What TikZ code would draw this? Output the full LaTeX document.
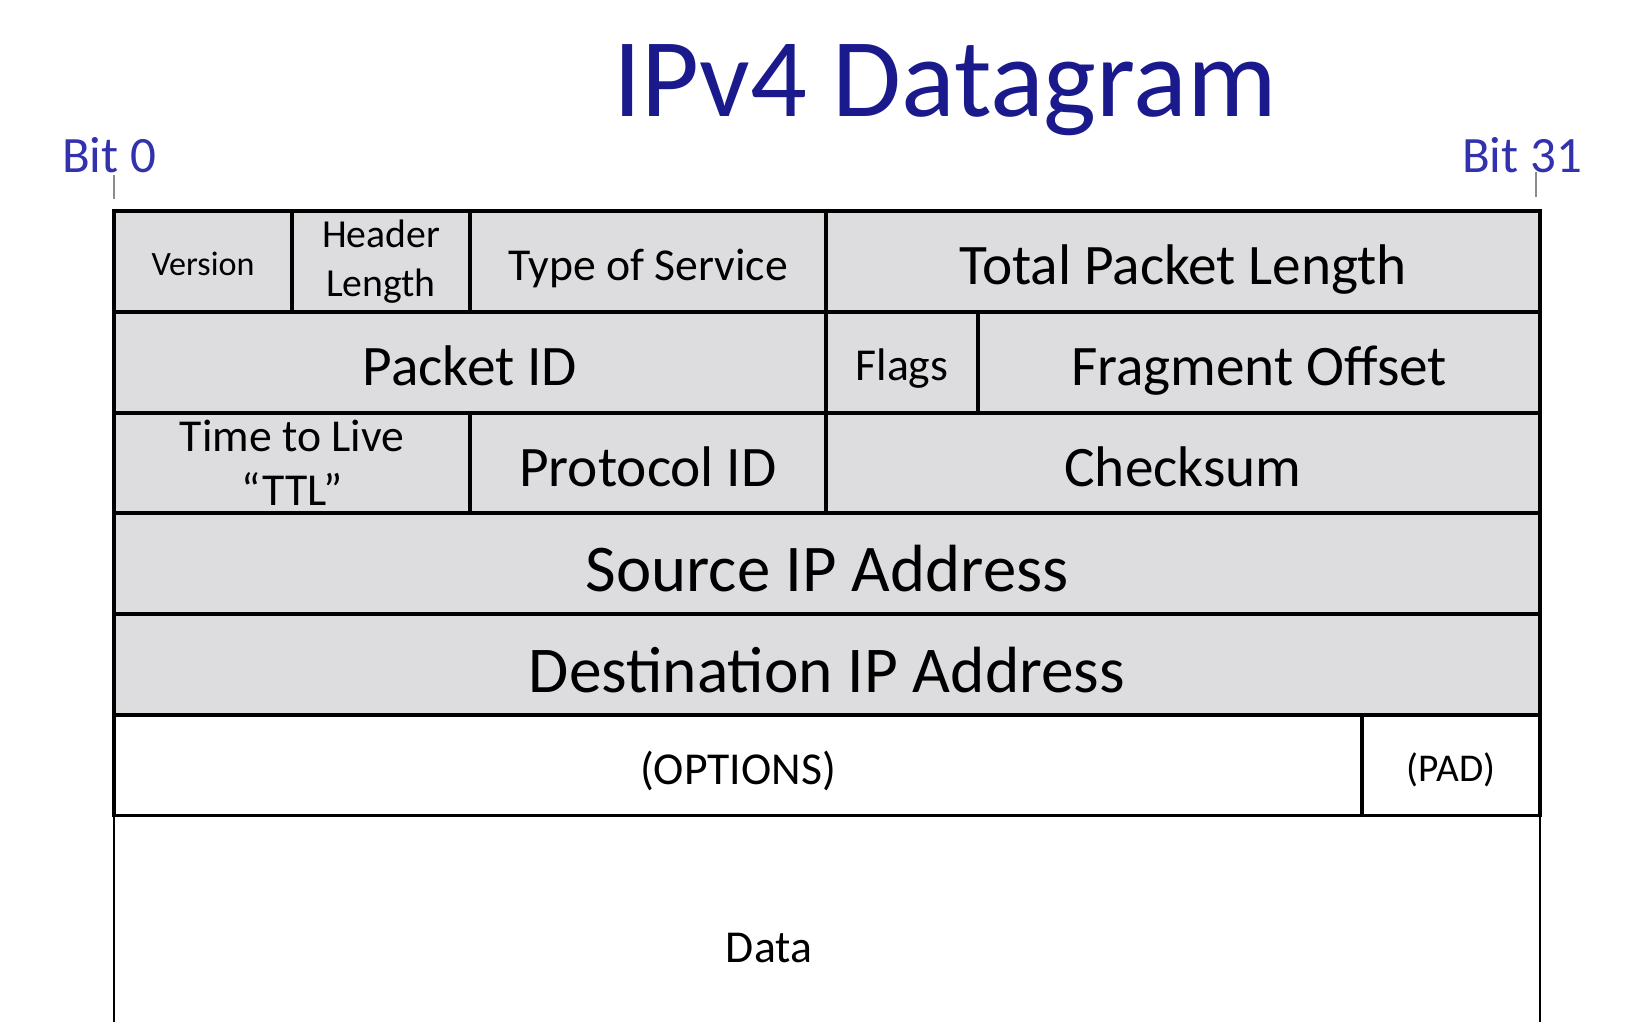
\documentclass[tikz,border=0pt]{standalone}
\usepackage{fontspec}
\setmainfont{Carlito}
\usepackage{xcolor}
\usepackage{tikz}
\usetikzlibrary{positioning}
\definecolor{fieldgray}{RGB}{221,221,223}
\definecolor{titleblue}{RGB}{26,26,140}
\definecolor{bitblue}{RGB}{50,50,175}
\newcommand{\fieldcolor}{fieldgray}
\newcommand{\blankcolor}{white}
\newcommand{\fsz}[2]{\fontsize{#1}{#2}\selectfont}

\begin{document}
\begin{tikzpicture}[
      % GLOBAL CFG
      font=\fsz{13}{15.6},
      % Styles
      field/.style={% For header fields
        rectangle,
        draw,
        line width=1.1pt,
        fill=\fieldcolor,
        minimum height=1.008cm,
        inner sep=0pt,
        outer sep=0pt
      },
      blank/.style={% For optional fields
        rectangle,
        draw,
        line width=0.9pt,
        fill=\blankcolor,
        minimum height=1.008cm,
        inner sep=0pt,
        outer sep=0pt
      },
      txtxl/.style={font=\fsz{19}{22.8}, text height=15.6pt, text depth=0pt},
      txtl/.style={font=\fsz{16.3}{19.6}, text height=13.4pt, text depth=0pt},
      txtm/.style={font=\fsz{13}{15.6}, text height=10.7pt, text depth=0pt},
      txts/.style={font=\fsz{11.2}{13.4}, text height=9.2pt, text depth=0pt},
      txtxs/.style={font=\fsz{9.7}{11.6}, text height=8pt, text depth=0pt},
      twoline/.style={align=center},
      bitlabel/.style={% For the bit numbers
        font=\fsz{14.5}{17.4},
        text=bitblue,
        anchor=base,
        inner sep=0pt
      },
      tick/.style={draw=gray!90, line width=0.5pt},
      side/.style={line width=0.8pt}
      ]
      \useasboundingbox (0,0) rectangle (16.45,10.33);

      % Title and bit numbers
      \node [font=\fsz{31.9}{38}, text=titleblue, anchor=base, inner sep=0pt] (title) at (9.45,9.16) {IPv4 Datagram};
      \node [bitlabel] (bit0) at (1.09,8.605) {Bit 0};
      \node [bitlabel] (bit31) at (15.22,8.605) {Bit 31};

      % First word
      \node [field, txtxs, minimum width=1.78cm] (version) at (2.03,7.716) {Version};
      \node [field, twoline, font=\fsz{11.3}{13.9}, minimum width=1.78cm] (hlen) at (3.81,7.716) {Header\\Length};
      \node [field, txtm, minimum width=3.56cm] (tos) at (6.48,7.716) {Type of Service};
      \node [field, txtl, minimum width=7.14cm] (totlen) at (11.83,7.716) {Total Packet Length};

      % Second word
      \node [field, txtl, minimum width=7.12cm] (pktid) at (4.70,6.708) {Packet ID};
      \node [field, txtm, minimum width=1.52cm] (flags) at (9.02,6.708) {Flags};
      \node [field, txtl, minimum width=5.62cm] (fragoff) at (12.59,6.708) {Fragment Offset};

      % Third word
      \node [field, twoline, font=\fsz{13}{15.4}, minimum width=3.56cm] (ttl) at (2.92,5.70) {Time to Live\\“TTL”};
      \node [field, txtl, minimum width=3.56cm] (proto) at (6.48,5.70) {Protocol ID};
      \node [field, txtl, minimum width=7.14cm] (checksum) at (11.83,5.70) {Checksum};

      % Addresses
      \node [field, txtxl, minimum width=14.26cm] (srcip) at (8.27,4.692) {Source IP Address};
      \node [field, txtxl, font=\fsz{18.6}{22.3}, minimum width=14.26cm] (dstip) at (8.27,3.684) {Destination IP Address};

      % Options and data
      \node [blank, txtm, minimum width=12.48cm] (options) at (7.38,2.676) {(OPTIONS)};
      \node [blank, txts, minimum width=1.78cm] (pad) at (14.51,2.676) {(PAD)};
      \node [txtm, inner sep=0pt] (data) at (7.69,0.89) {Data};
      \coordinate (databottom) at (0,0.11);
      \draw [side] (options.south west) -- (options.south west |- databottom);
      \draw [side] (pad.south east) -- (pad.south east |- databottom);

      % Bit ticks
      \draw [tick] ([yshift=0.12cm]version.north west) -- ++(0,0.24);
      \draw [tick] ([xshift=-0.04cm,yshift=0.14cm]totlen.north east) -- ++(0,0.25);

    \end{tikzpicture}
\end{document}
